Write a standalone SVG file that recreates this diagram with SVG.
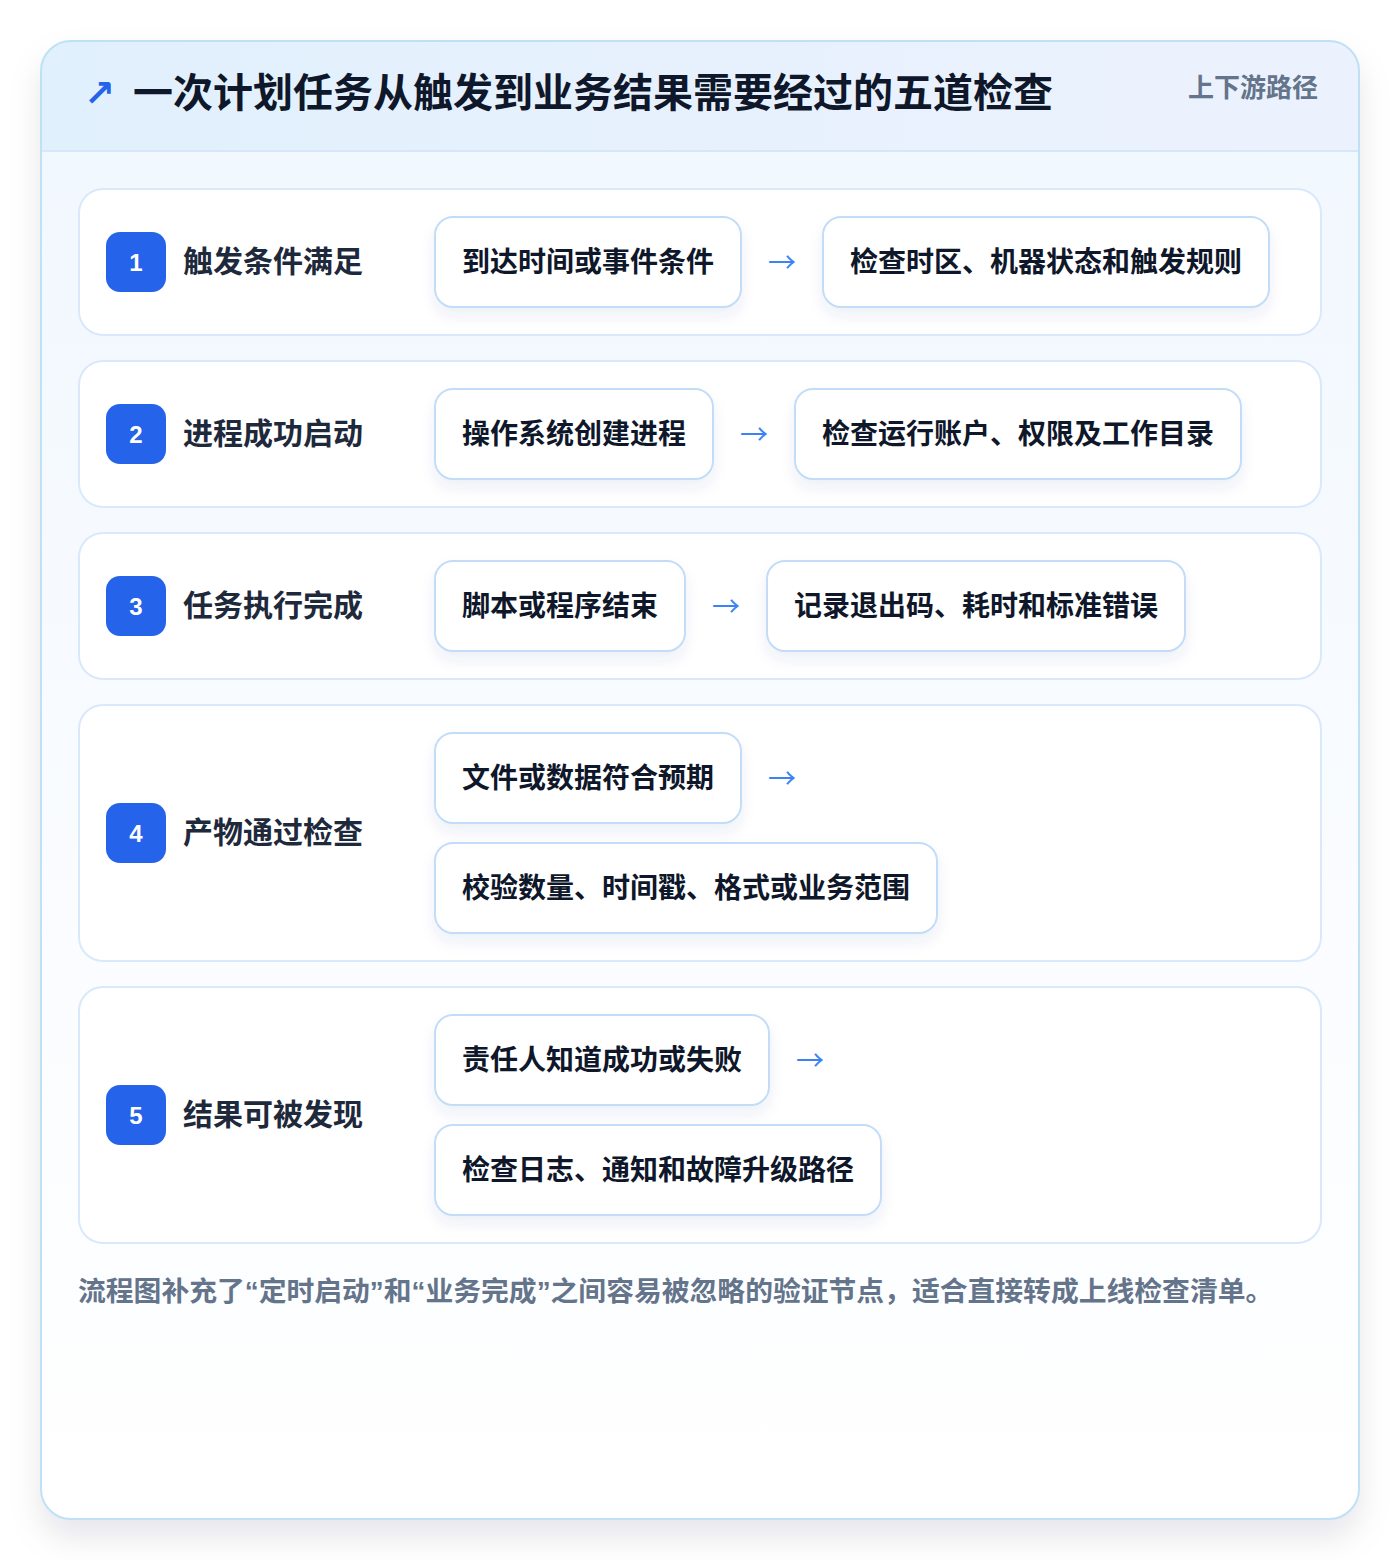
<svg xmlns="http://www.w3.org/2000/svg" width="1400" height="1560" viewBox="0 0 1400 1560">
<defs>
<style>
.t{font-family:"Noto Sans CJK SC","Liberation Sans",sans-serif;font-weight:700}
.title{font-size:40px;fill:#0f172a}
.sub{font-size:26px;fill:#64748b}
.row{fill:#ffffff;stroke:#d9e9fb;stroke-width:2}
.badge{fill:#2563eb}
.num{font-family:"Liberation Sans",Arial,sans-serif;font-weight:700;font-size:24px;fill:#ffffff}
.lbl{font-size:30px;fill:#1e293b}
.box{fill:#ffffff;stroke:#c3dcf8;stroke-width:2}
.bt{font-size:28px;fill:#0f172a}
.arr{font-family:"Noto Sans CJK SC",sans-serif;font-weight:400;font-size:28px;fill:#3b82f6}
.foot{font-family:"Liberation Sans","Noto Sans CJK SC",sans-serif;font-weight:700;font-size:27.8px;fill:#64748b}
</style>
<linearGradient id="hdr" x1="0" y1="0" x2="1" y2="0">
<stop offset="0" stop-color="#e1f0fd"/>
<stop offset="1" stop-color="#ecf2fd"/>
</linearGradient>
<linearGradient id="body" x1="0" y1="0" x2="0" y2="1">
<stop offset="0" stop-color="#f0f7fe"/>
<stop offset="0.6" stop-color="#fafcff"/>
<stop offset="1" stop-color="#ffffff"/>
</linearGradient>
<filter id="cardShadow" x="-10%" y="-10%" width="120%" height="125%">
<feDropShadow dx="0" dy="18" stdDeviation="16" flood-color="#0f172a" flood-opacity="0.10"/>
</filter>
<filter id="boxShadow" x="-10%" y="-20%" width="120%" height="160%">
<feDropShadow dx="0" dy="8" stdDeviation="7" flood-color="#1e3a8a" flood-opacity="0.07"/>
</filter>
<clipPath id="cardClip"><rect x="41" y="41" width="1318" height="1478" rx="30"/></clipPath>
</defs>
<rect width="1400" height="1560" fill="#ffffff"/>
<g id="card">
<rect x="41" y="41" width="1318" height="1478" rx="30" fill="url(#body)" filter="url(#cardShadow)"/>
<g clip-path="url(#cardClip)">
<rect x="41" y="41" width="1318" height="110" fill="url(#hdr)"/>
<line x1="41" y1="151" x2="1359" y2="151" stroke="#d6e7fa" stroke-width="2"/>
</g>
<rect x="41" y="41" width="1318" height="1478" rx="30" fill="none" stroke="#bfe1f6" stroke-width="2"/>
</g>
<g id="header">
<text x="84" y="106" font-size="37" font-weight="700" fill="#2563eb" font-family="DejaVu Sans,sans-serif">↗</text>
<text class="t title" x="133" y="107">一次计划任务从触发到业务结果需要经过的五道检查</text>
<text class="t sub" x="1318" y="97" text-anchor="end">上下游路径</text>
</g>
<g id="step1">
<rect class="row" x="79" y="189" width="1242" height="146" rx="24"/>
<rect class="badge" x="106" y="232" width="60" height="60" rx="14"/>
<text class="num" x="136" y="271" text-anchor="middle">1</text>
<text class="t lbl" x="183" y="272">触发条件满足</text>
<rect class="box" x="435" y="217" width="306" height="90" rx="18" filter="url(#boxShadow)"/>
<text class="t bt" x="462" y="272">到达时间或事件条件</text>
<rect class="box" x="823" y="217" width="446" height="90" rx="18" filter="url(#boxShadow)"/>
<text class="t bt" x="850" y="272">检查时区、机器状态和触发规则</text>
</g>
<g id="step2">
<rect class="row" x="79" y="361" width="1242" height="146" rx="24"/>
<rect class="badge" x="106" y="404" width="60" height="60" rx="14"/>
<text class="num" x="136" y="443" text-anchor="middle">2</text>
<text class="t lbl" x="183" y="444">进程成功启动</text>
<rect class="box" x="435" y="389" width="278" height="90" rx="18" filter="url(#boxShadow)"/>
<text class="t bt" x="462" y="444">操作系统创建进程</text>
<rect class="box" x="795" y="389" width="446" height="90" rx="18" filter="url(#boxShadow)"/>
<text class="t bt" x="822" y="444">检查运行账户、权限及工作目录</text>
</g>
<g id="step3">
<rect class="row" x="79" y="533" width="1242" height="146" rx="24"/>
<rect class="badge" x="106" y="576" width="60" height="60" rx="14"/>
<text class="num" x="136" y="615" text-anchor="middle">3</text>
<text class="t lbl" x="183" y="616">任务执行完成</text>
<rect class="box" x="435" y="561" width="250" height="90" rx="18" filter="url(#boxShadow)"/>
<text class="t bt" x="462" y="616">脚本或程序结束</text>
<rect class="box" x="767" y="561" width="418" height="90" rx="18" filter="url(#boxShadow)"/>
<text class="t bt" x="794" y="616">记录退出码、耗时和标准错误</text>
</g>
<g id="step4">
<rect class="row" x="79" y="705" width="1242" height="256" rx="24"/>
<rect class="badge" x="106" y="803" width="60" height="60" rx="14"/>
<text class="num" x="136" y="842" text-anchor="middle">4</text>
<text class="t lbl" x="183" y="843">产物通过检查</text>
<rect class="box" x="435" y="733" width="306" height="90" rx="18" filter="url(#boxShadow)"/>
<text class="t bt" x="462" y="788">文件或数据符合预期</text>
<rect class="box" x="435" y="843" width="502" height="90" rx="18" filter="url(#boxShadow)"/>
<text class="t bt" x="462" y="898">校验数量、时间戳、格式或业务范围</text>
</g>
<g id="step5">
<rect class="row" x="79" y="987" width="1242" height="256" rx="24"/>
<rect class="badge" x="106" y="1085" width="60" height="60" rx="14"/>
<text class="num" x="136" y="1124" text-anchor="middle">5</text>
<text class="t lbl" x="183" y="1125">结果可被发现</text>
<rect class="box" x="435" y="1015" width="334" height="90" rx="18" filter="url(#boxShadow)"/>
<text class="t bt" x="462" y="1070">责任人知道成功或失败</text>
<rect class="box" x="435" y="1125" width="446" height="90" rx="18" filter="url(#boxShadow)"/>
<text class="t bt" x="462" y="1180">检查日志、通知和故障升级路径</text>
</g>
<g id="connectors">
<text class="arr" x="768" y="273">→</text>
<text class="arr" x="740" y="445">→</text>
<text class="arr" x="712" y="617">→</text>
<text class="arr" x="768" y="789">→</text>
<text class="arr" x="796" y="1071">→</text>
</g>
<g id="footer">
<text class="foot" x="78" y="1301">流程图补充了“定时启动”和“业务完成”之间容易被忽略的验证节点，适合直接转成上线检查清单。</text>
</g>
</svg>
